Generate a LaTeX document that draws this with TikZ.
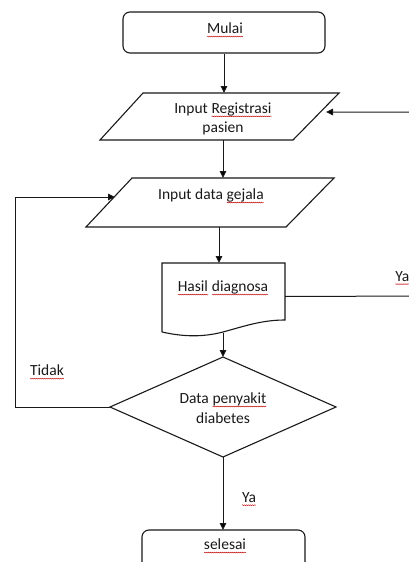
\documentclass[tikz,border=0pt]{standalone}
\usepackage{fontspec}
\setmainfont{Carlito}
\usetikzlibrary{arrows.meta,decorations.pathmorphing}
\newcommand\sq[1]{\tikz[baseline=(w.base)]{\node[inner sep=0pt,outer sep=0pt](w){#1};\draw[red!75!black,line width=0.4pt,decorate,decoration={snake,amplitude=0.45pt,segment length=2pt}]([yshift=-3pt]w.base west)--([yshift=-3pt]w.base east);}}
\tikzset{
  shp/.style={draw=black!90,line width=1.1pt},
  arr/.style={draw=black!90,line width=1pt,-{Triangle[length=7pt,width=6.5pt]}},
  txt/.style={inner sep=0pt,font=\fontsize{15.5}{19.5}\selectfont,align=center,text=black!90},
}
\begin{document}
\begin{tikzpicture}[x=1pt,y=-1pt]
\useasboundingbox (0,0) rectangle (408,562);
% Mulai
\node[shp,rounded corners=7pt,minimum width=202pt,minimum height=41pt,inner sep=0pt] (mulai) at (224,32.5) {};
\node[txt] (tmulai) at (225,30) {\sq{Mulai}};
% Parallelogram 1
\coordinate (p1a) at (143,93);
\coordinate (p1b) at (339,93);
\coordinate (p1c) at (293,140);
\coordinate (p1d) at (100,140);
\draw[shp,line join=miter] (p1a) -- (p1b) -- (p1c) -- (p1d) -- cycle;
\node[txt] (reg) at (223,119) {Input \sq{Registrasi}\\pasien};
\coordinate (p1top) at (224,93);
\coordinate (p1bot) at (223,140);
\coordinate (p1right) at (326,112);
% Parallelogram 2
\coordinate (p2a) at (132,178);
\coordinate (p2b) at (334,178);
\coordinate (p2c) at (286,227);
\coordinate (p2d) at (86,227);
\draw[shp,line join=miter] (p2a) -- (p2b) -- (p2c) -- (p2d) -- cycle;
\node[txt] (gej) at (211,196) {Input data \sq{gejala}};
\coordinate (p2top) at (223,178);
\coordinate (p2bot) at (219,227);
\coordinate (p2left) at (115,197);
% Hasil diagnosa (document)
\coordinate (hA) at (162,263);
\coordinate (hB) at (285,263);
\draw[shp,line join=miter] (162,332) -- (hA) -- (hB) -- (285,320)
  .. controls (262,320) and (245,326) .. (223,332)
  .. controls (200,338) and (180,336) .. (162,332);
\node[txt] (hasil) at (223,288) {\sq{Hasil} \sq{diagnosa}};
\coordinate (htop) at (219,263);
\coordinate (hbot) at (223,333);
\coordinate (hright) at (285,296.5);
% Diamond
\coordinate (dT) at (223,357);
\coordinate (dR) at (336,407);
\coordinate (dB) at (223,457);
\coordinate (dL) at (110,407);
\draw[shp,line join=miter] (dT) -- (dR) -- (dB) -- (dL) -- cycle;
\node[txt] (dec) at (223,408) {Data \sq{penyakit}\\diabetes};
% Selesai
\node[shp,rounded corners=7pt,minimum width=163pt,minimum height=46pt,inner sep=0pt] (sel) at (223.5,553) {};
\node[txt] (tsel) at (225,546) {\sq{selesai}};
\coordinate (seltop) at (223,530);
% Connectors
\draw[arr] (mulai.south) -- (p1top);
\draw[arr] (p1bot) -- (p2top);
\draw[arr] (p2bot) -- (htop);
\draw[arr] (hbot) -- (dT);
\draw[arr] (dB) -- (seltop);
\coordinate (lA) at (15,407);
\coordinate (lB) at (15,197);
\draw[arr] (dL) -- (lA) -- (lB) -- (p2left);
\coordinate (rA) at (425,296);
\coordinate (rB) at (425,112);
\draw[arr] (hright) -- (rA) -- (rB) -- (p1right);
% Labels
\node[txt] (tidak) at (47,372) {\sq{Tidak}};
\node[txt] (ya1) at (249,499) {\sq{Ya}};
\node[txt,anchor=west] (ya2) at (395,278) {\sq{Ya}};
\end{tikzpicture}
\end{document}
